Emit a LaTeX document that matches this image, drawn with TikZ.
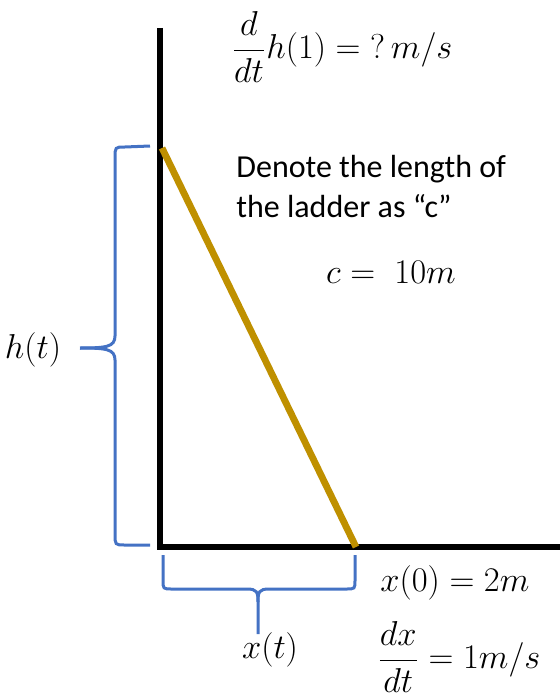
\documentclass[tikz,border=0pt]{standalone}
\usepackage{amsmath}
\usepackage{fontspec}
\setmainfont{Carlito}
\usepackage{tikz}
\definecolor{laddergold}{HTML}{BF9000}
\definecolor{braceblue}{HTML}{4472C4}
\tikzset{
  wall/.style={black,line width=3pt},
  brace/.style={braceblue,line width=1.5pt},
  mathlbl/.style={inner sep=0pt,font=\fontsize{16}{19}\selectfont}
}
\begin{document}
\begin{tikzpicture}[x=0.5pt,y=-0.5pt]
        \useasboundingbox (0,0) rectangle (560,700);
        \coordinate (top) at (160,28);
        \coordinate (corner) at (160,547);
        \coordinate (right) at (560,547);
        \coordinate (ladtop) at (162,148);
        \coordinate (ladfoot) at (356,547);
        % wall and ground
        \draw [wall] (top) -- (160,550);
        \draw [wall] (157,547) -- (right);
        % the ladder
        \draw [laddergold,line width=3.4pt] (ladtop) -- (ladfoot);
        % braces
        \draw [brace] (150,146) -- (125,147) .. controls (115,147) .. (115,158) -- (115,336) .. controls (115,347) and (106,348) .. (80,348);
        \draw [brace] (80,348) .. controls (106,348) and (115,349) .. (115,360) -- (115,534) .. controls (115,545) .. (125,545) -- (150,545);
        \draw [brace] (163,555) -- (163,580) .. controls (163,589) .. (172,589) -- (247,589) .. controls (257,589) and (258,592) .. (258,602) -- (258,634);
        \draw [brace] (258,602) .. controls (258,592) and (259,589) .. (269,589) -- (346,589) .. controls (355,589) .. (355,580) -- (355,555);
        % labels
        \node [mathlbl] (rate) at (342,47) {$\dfrac{d}{dt}h(1) = {?}\,m/s$};
        \node [anchor=north west,inner sep=0pt,align=left,font=\fontsize{16}{20}\selectfont] (note) at (236,155) {Denote the length of\\the ladder as “c”};
        \node [mathlbl] (clen) at (391,272) {$c =\; 10m$};
        \node [mathlbl] (hlbl) at (33,350) {$h(t)$};
        \node [mathlbl,anchor=west] (xzero) at (380,583) {$x(0) = 2m$};
        \node [mathlbl] (xlbl) at (270,650) {$x(t)$};
        \node [mathlbl,anchor=west] (speed) at (377,657) {$\dfrac{dx}{dt} = 1m/s$};
\end{tikzpicture}
\end{document}
